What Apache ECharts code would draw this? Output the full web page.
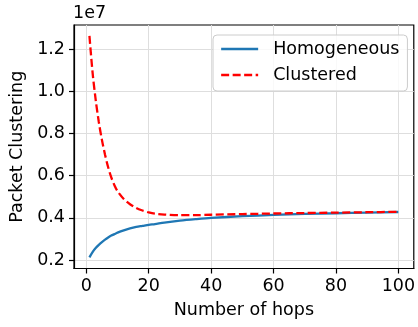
<!DOCTYPE html>
<html>
<head>
<meta charset="utf-8">
<script src="https://cdn.jsdelivr.net/npm/echarts@6/dist/echarts.min.js"></script>
<style>
html,body{margin:0;padding:0;background:#fff;}
#chart{width:418px;height:327px;}
</style>
</head>
<body>
<div id="chart"></div>
<script>
// x values (number of hops) at which values were read
const hops = [1,2,3,4,5,6,7,8,9,10,12,14,16,18,20,22,25,30,35,40,50,60,70,80,90,100];
// Packet clustering, in units of 1e7
const homogeneous = [0.213,0.238,0.257,0.272,0.285,0.297,0.307,0.316,0.323,0.330,0.341,0.350,0.357,0.362,0.367,0.371,0.378,0.387,0.394,0.400,0.408,0.414,0.419,0.422,0.425,0.428];
const clustered   = [1.263,1.090,0.960,0.855,0.770,0.700,0.640,0.592,0.555,0.527,0.490,0.465,0.447,0.435,0.426,0.420,0.416,0.413,0.413,0.415,0.418,0.421,0.423,0.425,0.427,0.429];
const xTicks = [0,20,40,60,80,100];
const yTicks = [0.2,0.4,0.6,0.8,1.0,1.2];
const seriesNames = ['Homogeneous','Clustered'];

const FONT = 'DejaVu Sans';
const FS = 17.5;

const chart = echarts.init(document.getElementById('chart'), null, {renderer:'canvas'});
chart.setOption({
  animation:false,
  backgroundColor:'#ffffff',
  grid:{left:73,right:2,top:25,bottom:58.5,show:true,borderColor:'#000',borderWidth:1.2,backgroundColor:'transparent'},
  graphic:[{type:'text',left:73,top:4,style:{text:'1e7',font:FS+'px "'+FONT+'"',fill:'#000'}}],
  legend:{
    left:213,top:35,orient:'vertical',
    data:seriesNames,
    itemWidth:37,itemHeight:20,itemGap:6,
    padding:[4,8,6,7],
    borderColor:'#cccccc',borderWidth:1,borderRadius:4,
    backgroundColor:'rgba(255,255,255,0.8)',
    itemStyle:{opacity:0},
    lineStyle:{width:2.3},
    textStyle:{fontFamily:FONT,fontSize:FS,color:'#000',lineHeight:20,padding:[0,0,0,10]}
  },
  xAxis:{
    type:'value',min:-3.95,max:104.95,
    name:'Number of hops',nameLocation:'middle',nameGap:33,
    nameTextStyle:{fontFamily:FONT,fontSize:FS,color:'#000'},
    axisLine:{show:true,onZero:false,lineStyle:{color:'#000',width:1.2}},
    axisTick:{show:true,length:5,lineStyle:{color:'#000',width:1.2},customValues:xTicks},
    axisLabel:{customValues:xTicks,fontFamily:FONT,fontSize:FS,color:'#000',margin:9},
    splitLine:{show:true,lineStyle:{color:'#dedede',width:1}}
  },
  yAxis:{
    type:'value',min:0.16,max:1.315,
    name:'Packet Clustering',nameLocation:'middle',nameGap:48,
    nameTextStyle:{fontFamily:FONT,fontSize:FS,color:'#000'},
    axisLine:{show:true,onZero:false,lineStyle:{color:'#000',width:1.2}},
    axisTick:{show:true,length:5,lineStyle:{color:'#000',width:1.2},customValues:yTicks},
    axisLabel:{customValues:yTicks,fontFamily:FONT,fontSize:FS,color:'#000',margin:9,formatter:v=>v.toFixed(1)},
    splitLine:{show:true,lineStyle:{color:'#dedede',width:1}}
  },
  series:[
    {name:seriesNames[0],type:'line',data:hops.map((x,i)=>[x,homogeneous[i]]),showSymbol:false,symbol:'none',smooth:0.3,
     lineStyle:{color:'#1f77b4',width:2.3},itemStyle:{color:'#1f77b4'}},
    {name:seriesNames[1],type:'line',data:hops.map((x,i)=>[x,clustered[i]]),showSymbol:false,symbol:'none',smooth:0.3,
     lineStyle:{color:'#ff0000',width:2.3,type:[8,3.5]},itemStyle:{color:'#ff0000'}}
  ]
});
</script>
</body>
</html>
